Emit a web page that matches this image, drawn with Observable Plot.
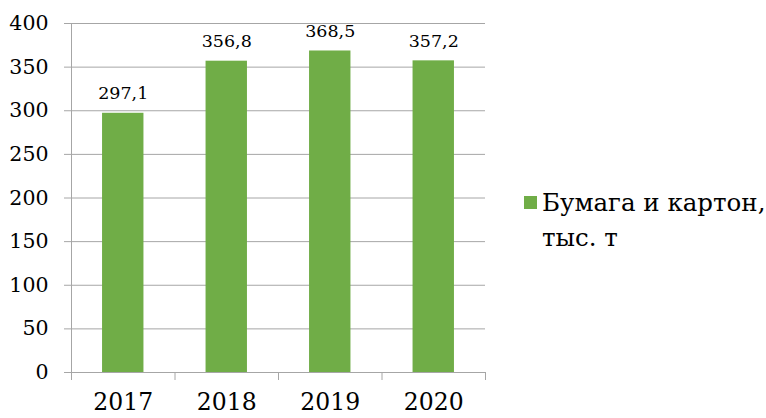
<!DOCTYPE html>
<html>
<head>
<meta charset="utf-8">
<script src="https://cdn.jsdelivr.net/npm/d3@7"></script>
<script src="https://cdn.jsdelivr.net/npm/@observablehq/plot@0.6"></script>
<style>
  html, body { margin: 0; padding: 0; background: #fff; }
  #wrap { position: relative; width: 766px; height: 418px; font-family: "DejaVu Serif", serif; }
  #legend { position: absolute; left: 524px; top: 185px; font-size: 24.5px; line-height: 35px; color: #000; white-space: nowrap; }
  #legend .sw { display: inline-block; width: 13px; height: 13px; background: #70AD47; margin-right: 5px; vertical-align: 2px; }
  #legend .l2 { padding-left: 18px; }
</style>
</head>
<body>
<div id="wrap">
  <div id="chart"></div>
  <div id="legend"><div><span class="sw"></span>Бумага и картон,</div><div class="l2">тыс. т</div></div>
</div>
<script>
const years = ["2017", "2018", "2019", "2020"];
const values = [297.1, 356.8, 368.5, 357.2];
const labels = ["297,1", "356,8", "368,5", "357,2"];
const yTicks = [0, 50, 100, 150, 200, 250, 300, 350, 400];

const data = years.map((y, i) => ({ i, year: y, value: values[i], label: labels[i] }));
const boundaries = d3.range(years.length + 1);
const centers = years.map((_, i) => i + 0.5);

const plot = Plot.plot({
  width: 766,
  height: 418,
  marginLeft: 71,
  marginRight: 281,
  marginTop: 23,
  marginBottom: 46,
  style: { fontFamily: "'DejaVu Serif', serif", color: "#000", background: "#fff", overflow: "visible" },
  x: { type: "linear", domain: [0, years.length], label: null },
  y: { domain: [0, 400], label: null },
  marks: [
    Plot.gridY(yTicks, { stroke: "#A6A6A6", strokeOpacity: 1 }),
    Plot.axisY(yTicks, { tickSize: 7, tickPadding: 16, stroke: "#A6A6A6", fontSize: 20.5, label: null, tickFormat: d => String(d) }),
    Plot.rectY(data, { x1: d => d.i + 0.3, x2: d => d.i + 0.7, y: "value", fill: "#70AD47" }),
    Plot.ruleX([0], { stroke: "#A6A6A6" }),
    Plot.ruleY([0], { stroke: "#A6A6A6" }),
    Plot.axisX(boundaries, { tickSize: 8, stroke: "#A6A6A6", label: null, tickFormat: () => "" }),
    Plot.axisX(centers, { tickSize: 0, tickPadding: 21, fontSize: 23.5, label: null, tickFormat: d => years[Math.floor(d)] }),
    Plot.text(data, { x: d => d.i + 0.5, y: "value", text: "label", lineAnchor: "bottom", dy: -14, fontSize: 17.5, fill: "#000" })
  ]
});
document.getElementById("chart").appendChild(plot);
</script>
</body>
</html>
